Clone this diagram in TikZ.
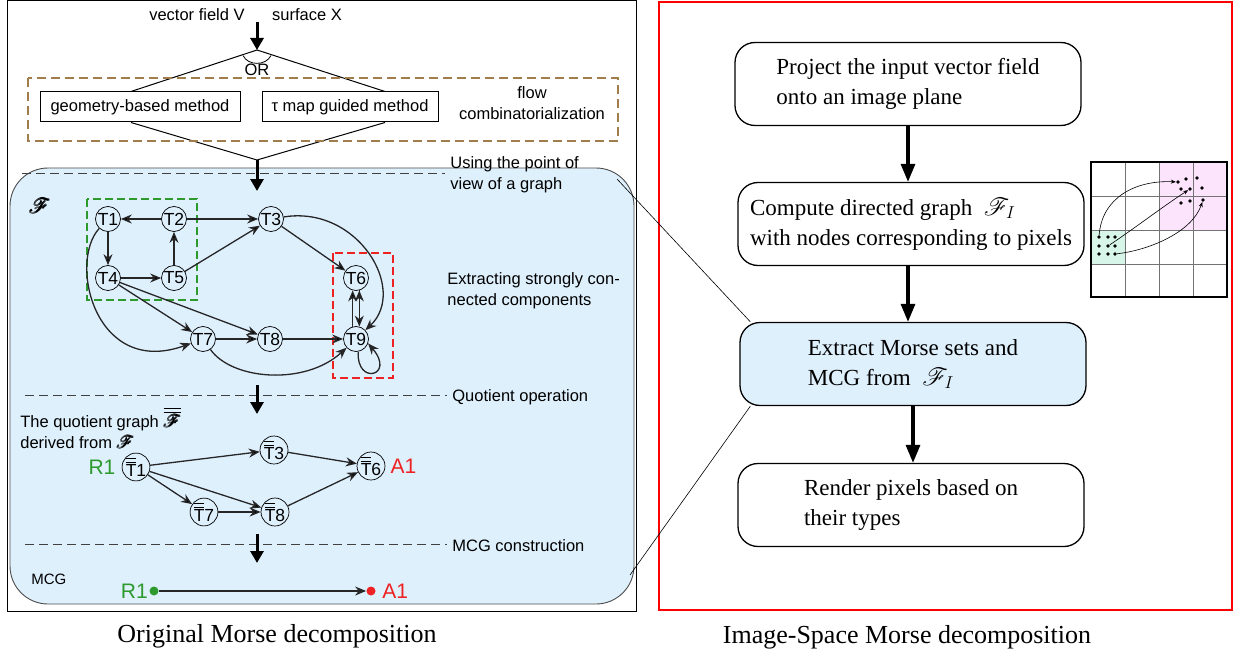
\documentclass[tikz,border=0pt]{standalone}
\usepackage{fontspec}
\setmainfont{Liberation Serif}
\setsansfont{Liberation Sans}
\usepackage{amsmath}
\usepackage{mathrsfs}
\usetikzlibrary{arrows.meta,positioning}

\definecolor{panelblue}{HTML}{DFF0FD}
\definecolor{sccgreen}{HTML}{2E9A2E}
\definecolor{sccred}{HTML}{EE2222}
\definecolor{combbrown}{HTML}{A07D4A}
\definecolor{pixpink}{HTML}{FCE4FC}
\definecolor{pixgreen}{HTML}{D8F5EA}

\newcommand{\dbar}[1]{\ensuremath{\overline{\overline{\mbox{#1}}}}}
\newcommand{\sF}{\ensuremath{\pmb{\mathscr{F}}}}

\begin{document}
\begin{tikzpicture}[x=1pt, y=-1pt, thick,
    main/.style = {draw, circle, minimum size=25pt, inner sep=0pt, line width=0.7pt, font=\sffamily\fontsize{17.5}{17.5}\selectfont},
    lbl/.style = {font=\sffamily\fontsize{16.5}{21}\selectfont, inner sep=0pt},
    method/.style = {draw, line width=1pt, minimum height=30pt, inner sep=3pt, font=\sffamily\fontsize{16.5}{20}\selectfont},
    stage/.style = {draw, rounded corners=20pt, line width=1.3pt, minimum width=346pt, minimum height=83pt, align=left, font=\fontsize{23}{30}\selectfont},
    arr/.style = {-{Stealth[length=11pt,width=9pt]}, line width=1.3pt, draw=black!85},
    bigarr/.style = {-{Triangle[length=12pt,width=13pt]}, line width=3pt},
    flowarr/.style = {-{Triangle[length=18pt,width=14pt]}, line width=3.2pt},
    sepline/.style = {dash pattern=on 9pt off 5pt, line width=0.7pt, draw=black!75},
    pix/.style = {circle, fill, inner sep=0pt, minimum size=3.6pt},
    pixarr/.style = {-{Stealth[length=5pt,width=4pt]}, line width=0.6pt},
    caption/.style = {font=\fontsize{26}{30}\selectfont}]

\useasboundingbox (0,0) rectangle (1237,658);

% left panel
\draw[line width=1pt] (7,1) rectangle (636,611);
\draw[fill=panelblue, draw=black!70, line width=0.9pt, rounded corners=38pt] (10,168) rectangle (634,604);

\node[lbl] (vf) at (197,15) {vector field V};
\node[lbl] (sx) at (307,15) {surface X};
\coordinate (in) at (257,22);
\coordinate (or) at (257,50);
\draw[bigarr] (in) -- (or);

\node[method, minimum width=200pt] (geo) at (140,107) {geometry-based method};
\node[method, minimum width=176pt] (tau) at (350,107) {τ map guided method};
\draw[line width=1pt] ([xshift=-9pt]geo.north) -- (or) -- ([xshift=35pt]tau.north);
\draw[line width=0.8pt] (243,55.5) .. controls (248,66) and (266,66) .. (271,55.5);
\node[lbl] (ortxt) at (257,70) {OR};

\coordinate (join) at (257,160);
\coordinate (fin) at (257,191);
\draw[line width=1pt] ([xshift=-9pt]geo.south) -- (join) -- ([xshift=35pt]tau.south);
\draw[bigarr] (join) -- (fin);

\draw[combbrown, line width=1.4pt, dash pattern=on 9pt off 5pt] (28,78) rectangle (618,141);
\node[lbl, align=center] (comb) at (532,103) {flow\\combinatorialization};

\coordinate (s1a) at (22,173);
\coordinate (s1b) at (445,173);
\draw[sepline] (s1a) -- (s1b);
\node[lbl, align=left, anchor=west] (view) at (450,175) {Using the point of\\view of a graph};

\node (fF) at (40,206) {\fontsize{21}{21}\selectfont$\sF$};

\node[main] (t1) at (108,219) {T1};
\node[main] (t2) at (174,219) {T2};
\node[main] (t3) at (271,219) {T3};
\node[main] (t4) at (108,278) {T4};
\node[main] (t5) at (174,278) {T5};
\node[main] (t6) at (356,278) {T6};
\node[main] (t7) at (203,339) {T7};
\node[main] (t8) at (270,339) {T8};
\node[main] (t9) at (356,339) {T9};

\draw[sccgreen, line width=2pt, dash pattern=on 8pt off 4pt] (87,199) rectangle (197,300);
\draw[sccred, line width=2pt, dash pattern=on 8pt off 4pt] (333,253) rectangle (393,378);

\path[arr]
    (t2) edge (t1)
    (t1) edge (t4)
    (t4) edge (t5)
    (t5) edge (t2)
    (t2) edge (t3)
    (t5) edge (t3)
    (t3) edge (t6)
    (t4) edge (t7)
    (t4) edge (t8)
    (t7) edge (t8)
    (t8) edge (t9)
    (t9.105) edge (t6.-105)
    (t6.-75) edge (t9.75)
    ;
\draw[arr] (t3) .. controls (358,205) and (408,290) .. (t9);
\draw[arr] (t1) .. controls (68,262) and (95,378) .. (t7);
\draw[arr] (t7) .. controls (232,380) and (305,386) .. (t9);
\draw[arr] (t9.-80) .. controls (356,386) and (396,376) .. (t9.-20);

\node[lbl, align=left, anchor=west] (scc) at (447,291) {Extracting strongly con-\\nected components};

% quotient graph
\draw[sepline] (25,395) -- (447,395);
\node[lbl, anchor=west] (quot) at (452,397) {Quotient operation};
\draw[bigarr] (257,385) -- (257,414);
\node[lbl, align=left, anchor=west] (qtxt) at (20,428) {The quotient graph $\overline{\overline{\sF}}$\\derived from $\sF$};

\node[main] (qt1) at (136,467) {\dbar{T}1};
\node[main] (qt3) at (274,450) {\dbar{T}3};
\node[main] (qt6) at (371,466) {\dbar{T}6};
\node[main] (qt7) at (204,512) {\dbar{T}7};
\node[main] (qt8) at (275,512) {\dbar{T}8};
\node[font=\sffamily\fontsize{21}{21}\selectfont, text=sccgreen, inner sep=0pt, left=6pt of qt1] (r1) {R1};
\node[font=\sffamily\fontsize{21}{21}\selectfont, text=sccred, inner sep=0pt, right=5pt of qt6] (a1) {A1};

\path[arr]
    (qt1) edge (qt3)
    (qt1) edge (qt8)
    (qt1) edge (qt7)
    (qt7) edge (qt8)
    (qt3) edge (qt6)
    (qt8) edge (qt6)
    ;

% MCG
\draw[sepline] (25,544) -- (447,544);
\node[lbl, anchor=west] (mcgc) at (452,546) {MCG construction};
\draw[bigarr] (257,534) -- (257,563);
\node[font=\sffamily\fontsize{15}{15}\selectfont, anchor=west, inner sep=0pt] (mcg) at (31,579) {MCG};
\node[circle, fill=sccgreen, minimum size=9pt, inner sep=0pt] (m1) at (154,591) {};
\node[circle, fill=sccred, minimum size=9pt, inner sep=0pt] (m2) at (371,591) {};
\node[font=\sffamily\fontsize{21}{21}\selectfont, text=sccgreen, inner sep=0pt, left=1pt of m1] (mr1) {R1};
\node[font=\sffamily\fontsize{21}{21}\selectfont, text=sccred, inner sep=0pt, right=6pt of m2] (ma1) {A1};
\draw[arr] (m1) -- (m2);

% right panel
\draw[red, line width=2.4pt] (659,2) rectangle (1232,610);

\node[stage] (proj) at (908,84) {Project the input vector field\\onto an image plane};
\node[stage] (graph) at (911,224) {Compute directed graph \ $\mathscr{F}_I$\\with nodes corresponding to pixels};
\node[stage, fill=panelblue] (extract) at (913,364) {Extract Morse sets and\\MCG from \ $\mathscr{F}_I$};
\node[stage] (render) at (911,505) {Render pixels based on\\their types};

\draw[flowarr] (proj.south) -- (proj.south |- graph.north);
\draw[flowarr] (proj.south |- graph.south) -- (proj.south |- extract.north);
\draw[flowarr] (extract.south) -- (extract.south |- render.north);

\coordinate (fc1) at (617,179);
\coordinate (fc2) at (630,575);
\draw[line width=0.6pt] (fc1) -- ([xshift=11pt]extract.north west);
\draw[line width=0.6pt] (fc2) -- ([xshift=11pt]extract.south west);

% pixel grid
\fill[pixpink] (1159,162) rectangle (1227,230);
\fill[pixgreen] (1091,230) rectangle (1125,264);
\foreach \gx in {1125,1159,1193} \draw[black!55, line width=0.8pt] (\gx,162) -- (\gx,297);
\foreach \gy in {196,230,264} \draw[black!55, line width=0.8pt] (1091,\gy) -- (1227,\gy);
\draw[line width=1.2pt] (1091,162) rectangle (1227,297);

\foreach \px/\py [count=\i] in {1099/237,1108/237,1115/237,1099/246,1108/246,1115/246,1099/254,1108/254,1115/254}
    \node[pix] (g\i) at (\px,\py) {};
\foreach \px/\py [count=\i] in {1178/182,1186/179,1197/178,1181/189,1190/189,1202/188,1181/203,1190/201,1203/200}
    \node[pix] (p\i) at (\px,\py) {};

\draw[pixarr] (g1) .. controls (1102,198) and (1135,180) .. (p1);
\draw[pixarr] (g5) .. controls (1135,228) and (1165,205) .. (p5);
\draw[pixarr] (g9) .. controls (1150,250) and (1192,232) .. (p9);

\node[caption] (capl) at (277,636) {Original Morse decomposition};
\node[caption] (capr) at (907,637) {Image-Space Morse decomposition};
\end{tikzpicture}
\end{document}
